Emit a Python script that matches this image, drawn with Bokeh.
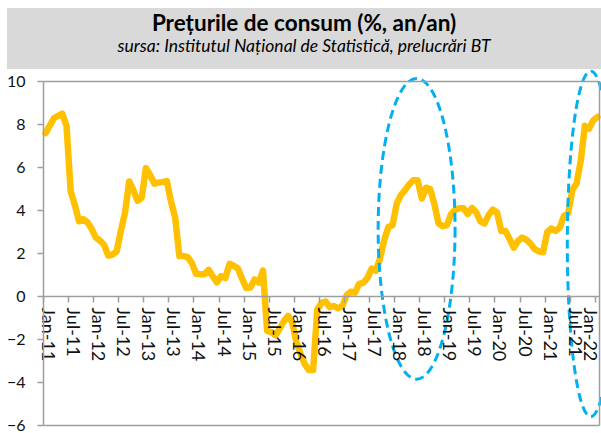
from bokeh.plotting import figure
from bokeh.models import LinearAxis, FixedTicker, Range1d, Div
from bokeh.layouts import column
from bokeh.embed import file_html
from bokeh.resources import INLINE

# ---------------- data ----------------
month_names = ["Jan", "Feb", "Mar", "Apr", "May", "Jun",
               "Jul", "Aug", "Sep", "Oct", "Nov", "Dec"]
categories = [f"{m}-{y}" for y in range(11, 22) for m in month_names] + ["Jan-22"]

cpi_2011 = [7.6, 7.95, 8.3, 8.4, 8.5, 7.95, 4.9, 4.25, 3.5, 3.6, 3.45, 3.15]
cpi_2012 = [2.75, 2.6, 2.4, 1.9, 1.95, 2.1, 3.05, 3.9, 5.35, 4.95, 4.45, 4.6]
cpi_2013 = [5.97, 5.65, 5.25, 5.3, 5.32, 5.37, 4.41, 3.67, 1.88, 1.88, 1.83, 1.55]
cpi_2014 = [1.06, 1.04, 1.04, 1.24, 0.94, 0.66, 0.95, 0.86, 1.52, 1.43, 1.3, 0.83]
cpi_2015 = [0.4, 0.42, 0.79, 0.65, 1.21, -1.6, -1.66, -1.8, -1.5, -1.15, -0.9, -1.2]
cpi_2016 = [-2.13, -2.66, -3.15, -3.42, -3.42, -0.6, -0.3, -0.24, -0.5, -0.44, -0.55, -0.45]
cpi_2017 = [0.05, 0.22, 0.18, 0.59, 0.64, 0.87, 1.3, 1.2, 1.77, 2.61, 3.23, 3.32]
cpi_2018 = [4.32, 4.72, 4.95, 5.22, 5.41, 5.41, 4.56, 5.06, 5.0, 4.3, 3.4, 3.27]
cpi_2019 = [3.32, 3.83, 4.03, 4.11, 4.1, 3.84, 4.12, 3.92, 3.5, 3.4, 3.8, 4.04]
cpi_2020 = [3.91, 3.05, 3.05, 2.67, 2.27, 2.58, 2.74, 2.64, 2.46, 2.2, 2.1, 2.06]
cpi_2021 = [2.99, 3.16, 3.05, 3.21, 3.75, 3.87, 4.95, 5.25, 6.29, 7.94, 7.8, 8.19]
cpi_2022 = [8.35]

values = (cpi_2011 + cpi_2012 + cpi_2013 + cpi_2014 + cpi_2015 + cpi_2016 +
          cpi_2017 + cpi_2018 + cpi_2019 + cpi_2020 + cpi_2021 + cpi_2022)

y_ticks = [-6, -4, -2, 0, 2, 4, 6, 8, 10]
label_step = 6

title_text = "Prețurile de consum (%, an/an)"
subtitle_text = "sursa: Institutul Național de Statistică, prelucrări BT"

# highlighted periods (centre month, centre value, width in months, height in pp)
highlight_centres = ["Jun-18", "Nov-21"]
highlight_dx = [-0.25, 0.4]
highlight_y = [3.15, 2.45]
highlight_w = [18.4, 11.2]
highlight_h = [14.0, 16.1]

# ---------------- figure ----------------
idx = list(range(len(categories)))
n = len(categories)
AX = "#9E9E9E"
FONT = "Lato"

# plot area: categories -0.5 .. n-0.5 occupy page x 43..599; values -6..10 occupy page y 425..81
px_per_cat = (599 - 43) / n
px_per_unit = (425 - 81) / 16
x_start = -0.5 - 43 / px_per_cat
x_end = n - 0.5 + 2 / px_per_cat
y_end = 10 + (81 - 69) / px_per_unit
y_start = -6 - (433 - 425) / px_per_unit

header = Div(
    text=(f'<div style="width:594px;text-align:center;font-family:{FONT};color:#000;padding-top:1px;">'
          f'<div style="font-weight:bold;font-size:22.5px;line-height:27px;">{title_text}</div>'
          f'<div style="font-style:italic;font-size:17.5px;line-height:20px;">{subtitle_text}</div>'
          f'</div>'),
    width=594, height=61, margin=(8, 0, 0, 7),
    styles={"background-color": "#D9D9D9"},
)

p = figure(width=601, height=364,
           x_range=Range1d(x_start, x_end), y_range=Range1d(y_start, y_end),
           x_axis_type=None, y_axis_type=None,
           output_backend="svg", toolbar_location=None,
           min_border_left=0, min_border_right=0, min_border_top=0, min_border_bottom=0,
           outline_line_color=None, background_fill_color="white", border_fill_color="white",
           margin=0)
p.xgrid.visible = False
p.ygrid.visible = False

# left value axis (placed at the left edge of the category area)
yax = LinearAxis(ticker=FixedTicker(ticks=y_ticks), bounds=(-6, 10),
                 fixed_location=-0.5,
                 axis_line_color=AX, axis_line_width=1.5,
                 major_tick_line_color=AX, major_tick_line_width=1.5,
                 major_tick_in=0, major_tick_out=6,
                 minor_tick_line_color=None,
                 major_label_standoff=12,
                 major_label_text_font=FONT, major_label_text_font_size="16px",
                 major_label_text_color="#111111")
p.add_layout(yax, "left")

# category axis at y = 0 : tick marks between categories
label_pos = list(range(0, n, label_step))
tick_axis = LinearAxis(ticker=FixedTicker(ticks=[i - 0.5 for i in label_pos]),
                       fixed_location=0, bounds=(-0.5, n - 0.5),
                       axis_line_color=AX, axis_line_width=1.5,
                       major_tick_line_color=AX, major_tick_line_width=1.5,
                       major_tick_in=0, major_tick_out=6,
                       minor_tick_line_color=None,
                       major_label_text_color=None)
p.add_layout(tick_axis, "below")

label_axis = LinearAxis(ticker=FixedTicker(ticks=[i + 0.8 for i in label_pos]),
                        fixed_location=0, bounds=(-0.5, n - 0.5),
                        axis_line_color=None,
                        major_tick_line_color=None, minor_tick_line_color=None,
                        major_tick_in=0, major_tick_out=6,
                        major_label_standoff=5,
                        major_label_orientation="vertical",
                        major_label_overrides={i + 0.8: categories[i] for i in label_pos},
                        major_label_text_font=FONT, major_label_text_font_size="18px",
                        major_label_text_color="#111111")
p.add_layout(label_axis, "below")

# plot-area border (top, right, bottom)
def border_axis(**kw):
    return LinearAxis(ticker=FixedTicker(ticks=[]), axis_line_color=AX, axis_line_width=1.5,
                      major_tick_line_color=None, minor_tick_line_color=None,
                      major_label_text_color=None, **kw)

p.add_layout(border_axis(fixed_location=10, bounds=(-0.5, n - 0.5)), "above")
p.add_layout(border_axis(fixed_location=-6, bounds=(-0.5, n - 0.5)), "below")
p.add_layout(border_axis(fixed_location=n - 0.5, bounds=(-6, 10)), "right")

# the series
p.line(x=idx, y=values, line_color="#FFC000", line_width=6.5,
       line_join="round", line_cap="round")

# dashed ellipses
ex = [categories.index(c) + d for c, d in zip(highlight_centres, highlight_dx)]
p.ellipse(x=ex, y=highlight_y, width=highlight_w, height=highlight_h,
          fill_color=None, line_color="#00B0F0", line_width=3, line_dash="9 5")

layout = column(header, p, spacing=0)
open("out.html", "w").write(file_html(layout, INLINE))
